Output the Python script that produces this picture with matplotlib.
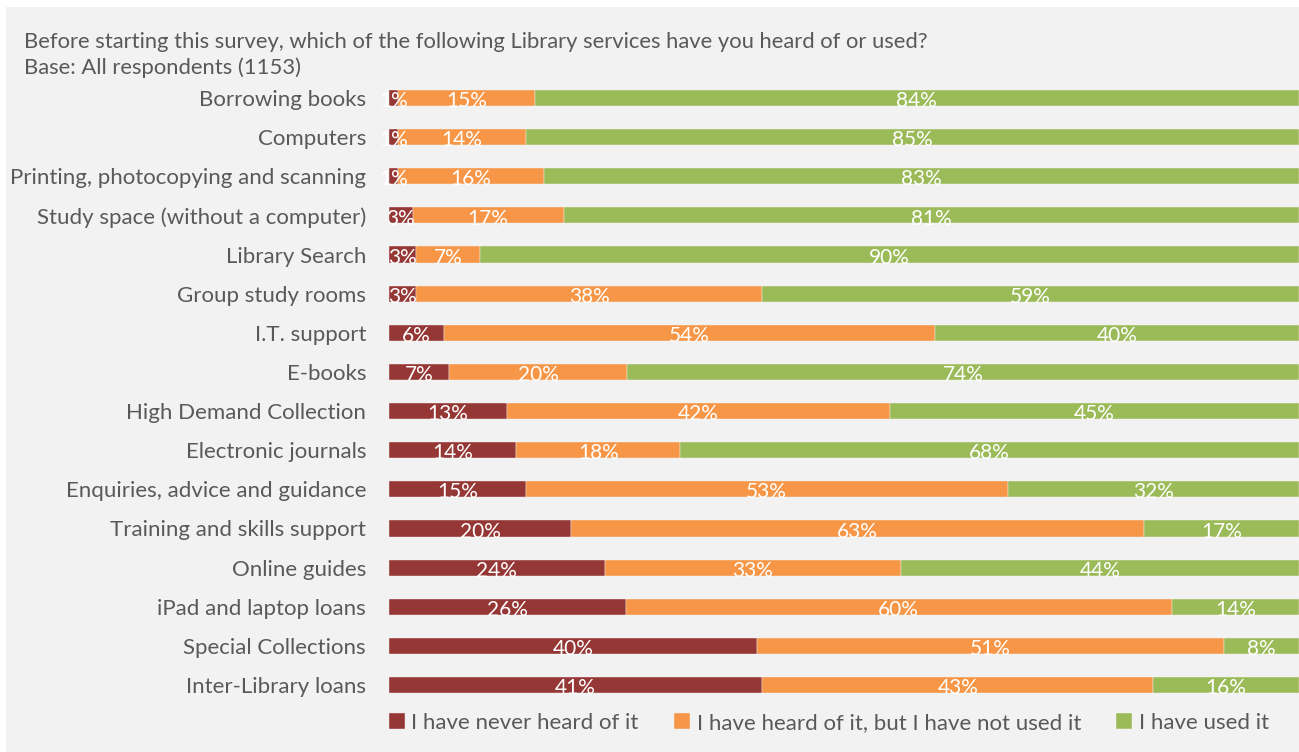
import numpy as np
import matplotlib.pyplot as plt
from matplotlib.patches import Rectangle

services = [
    "Borrowing books",
    "Computers",
    "Printing, photocopying and scanning",
    "Study space (without a computer)",
    "Library Search",
    "Group study rooms",
    "I.T. support",
    "E-books",
    "High Demand Collection",
    "Electronic journals",
    "Enquiries, advice and guidance",
    "Training and skills support",
    "Online guides",
    "iPad and laptop loans",
    "Special Collections",
    "Inter-Library loans",
]
never_heard = [1, 1, 1, 2.6, 3, 3, 6, 6.6, 13, 14, 15, 20, 23.7, 26, 40.4, 41]
heard_not_used = [15, 14, 16, 16.6, 7, 38, 54, 19.6, 42, 18, 53, 63, 32.6, 60, 51.4, 43]
used = [84, 85, 83, 80.8, 90, 59, 40, 73.8, 45, 68, 32, 17, 43.7, 14, 8.2, 16]

series_names = ["I have never heard of it",
                "I have heard of it, but I have not used it",
                "I have used it"]
colours = ["#953735", "#f79646", "#9bbb59"]
grey_text = "#595959"

plt.rcParams['font.family'] = ['Lato', 'DejaVu Sans']

fig = plt.figure(figsize=(12.99, 7.52), dpi=100)
fig.patch.set_facecolor("white")
# grey chart area
fig.patches.append(Rectangle((6 / 1299, 0), 1, 1 - 7 / 752, transform=fig.transFigure,
                             facecolor="#f2f2f2", edgecolor="none", zorder=-10))

ax = fig.add_axes([389 / 1299, 1 - 704.6 / 752, 1 - 389 / 1299, (704.6 - 78.4) / 752])
ax.set_facecolor("none")

y = np.arange(len(services))
left = np.zeros(len(services))
for vals, name, col in zip([never_heard, heard_not_used, used], series_names, colours):
    vals = np.array(vals, dtype=float)
    ax.barh(y, vals, left=left, height=0.41, color=col, label=name,
            edgecolor="#f2f2f2", linewidth=0.3)
    for yi, l, v in zip(y, left, vals):
        ax.text(l + v / 2, yi + 0.08, f"{v:.0f}%", ha="center", va="center",
                color="white", fontsize=15)
    left += vals

ax.set_xlim(0, 100)
ax.set_ylim(len(services) - 0.5, -0.5)
ax.set_yticks(y)
ax.set_yticklabels(services, fontsize=16, color=grey_text)
ax.tick_params(axis="y", length=0, pad=16.5)
ax.set_xticks([])
for s in ax.spines.values():
    s.set_visible(False)

fig.text(24 / 1299, 1 - 42 / 752, "Before starting this survey, which of the following Library services have you heard of or used?",
         fontsize=15.8, color=grey_text, va="center", ha="left")
fig.text(24 / 1299, 1 - 68 / 752, "Base: All respondents (1153)",
         fontsize=15.8, color=grey_text, va="center", ha="left")

fig.legend(loc="center", bbox_to_anchor=(829 / 1299, 1 - 723 / 752), ncol=3,
           frameon=False, fontsize=16, labelcolor=grey_text,
           handlelength=0.7, handleheight=0.7, handletextpad=0.3, columnspacing=1.6)

fig.savefig("out.png", dpi=100, facecolor=fig.get_facecolor())
